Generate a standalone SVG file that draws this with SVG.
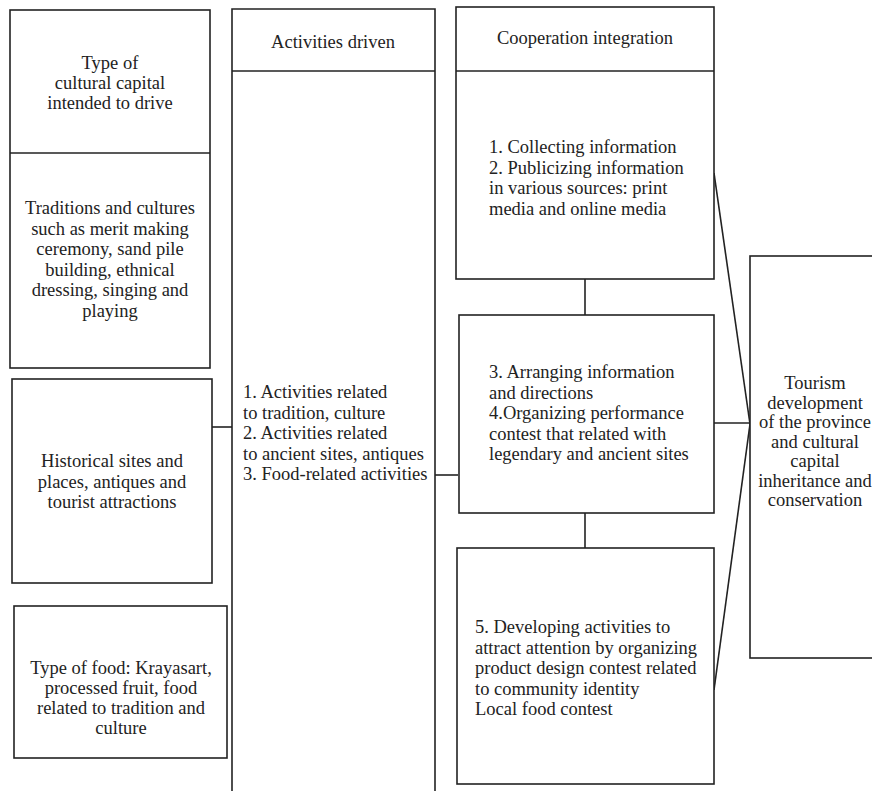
<svg xmlns="http://www.w3.org/2000/svg" width="872" height="791" viewBox="0 0 872 791">
<style>
.b{fill:#fff;stroke:#222;stroke-width:1.6}
.l{fill:none;stroke:#222;stroke-width:1.6}
.c{text-anchor:middle}
text{font-family:"Liberation Serif","Times New Roman",serif;font-size:18.5px;fill:#222}
</style>
<rect width="872" height="791" fill="#fff"/>
<g id="connectors">
<line class="l" x1="212" y1="427" x2="232" y2="427"/>
<line class="l" x1="435" y1="475" x2="458" y2="475"/>
<line class="l" x1="585" y1="279" x2="585" y2="315"/>
<line class="l" x1="585" y1="513" x2="585" y2="548"/>
<line class="l" x1="714" y1="423" x2="750" y2="423"/>
<line class="l" x1="714" y1="173" x2="750" y2="424"/>
<line class="l" x1="714" y1="690" x2="750" y2="424"/>
</g>
<g id="cultural-type">
<rect class="b" x="10" y="10" width="200" height="358"/>
<line class="l" x1="10" y1="153" x2="210" y2="153"/>
<text class="c" x="110" y="69">Type of</text>
<text class="c" x="110" y="89">cultural capital</text>
<text class="c" x="110" y="109">intended to drive</text>
<text class="c" x="110" y="214">Traditions and cultures</text>
<text class="c" x="110" y="234.5">such as merit making</text>
<text class="c" x="110" y="255">ceremony, sand pile</text>
<text class="c" x="110" y="275.5">building, ethnical</text>
<text class="c" x="110" y="296">dressing, singing and</text>
<text class="c" x="110" y="316.5">playing</text>
</g>
<g id="historical">
<rect class="b" x="12" y="379" width="200" height="204"/>
<text class="c" x="112" y="467">Historical sites and</text>
<text class="c" x="112" y="487.5">places, antiques and</text>
<text class="c" x="112" y="508">tourist attractions</text>
</g>
<g id="food">
<rect class="b" x="14" y="606" width="213" height="152"/>
<text class="c" x="121" y="674">Type of food: Krayasart,</text>
<text class="c" x="121" y="694">processed fruit, food</text>
<text class="c" x="121" y="714">related to tradition and</text>
<text class="c" x="121" y="734">culture</text>
</g>
<g id="activities">
<path class="b" d="M232,800 V9 H435 V800"/>
<line class="l" x1="232" y1="71" x2="435" y2="71"/>
<text class="c" x="333" y="48">Activities driven</text>
<text x="243" y="398">1. Activities related</text>
<text x="243" y="418.5">to tradition, culture</text>
<text x="243" y="439">2. Activities related</text>
<text x="243" y="459.5">to ancient sites, antiques</text>
<text x="243" y="480">3. Food-related activities</text>
</g>
<g id="cooperation">
<rect class="b" x="456" y="7" width="258" height="272"/>
<line class="l" x1="456" y1="71" x2="714" y2="71"/>
<text class="c" x="585" y="44">Cooperation integration</text>
<text x="489" y="153">1. Collecting information</text>
<text x="489" y="173.5">2. Publicizing information</text>
<text x="489" y="194">in various sources: print</text>
<text x="489" y="214.5">media and online media</text>
</g>
<g id="coop-arranging">
<rect class="b" x="459" y="315" width="255" height="198"/>
<text x="489" y="378">3. Arranging information</text>
<text x="489" y="398.5">and directions</text>
<text x="489" y="419">4.Organizing performance</text>
<text x="489" y="439.5">contest that related with</text>
<text x="489" y="460">legendary and ancient sites</text>
</g>
<g id="coop-developing">
<rect class="b" x="457" y="548" width="257" height="236"/>
<text x="475" y="633">5. Developing activities to</text>
<text x="475" y="653.5">attract attention by organizing</text>
<text x="475" y="674">product design contest related</text>
<text x="475" y="694.5">to community identity</text>
<text x="475" y="715">Local food contest</text>
</g>
<g id="tourism">
<rect class="b" x="750" y="256" width="140" height="402"/>
<text class="c" x="815" y="389">Tourism</text>
<text class="c" x="815" y="408.5">development</text>
<text class="c" x="815" y="428">of the province</text>
<text class="c" x="815" y="447.5">and cultural</text>
<text class="c" x="815" y="467">capital</text>
<text class="c" x="815" y="486.5">inheritance and</text>
<text class="c" x="815" y="506">conservation</text>
</g>
</svg>
